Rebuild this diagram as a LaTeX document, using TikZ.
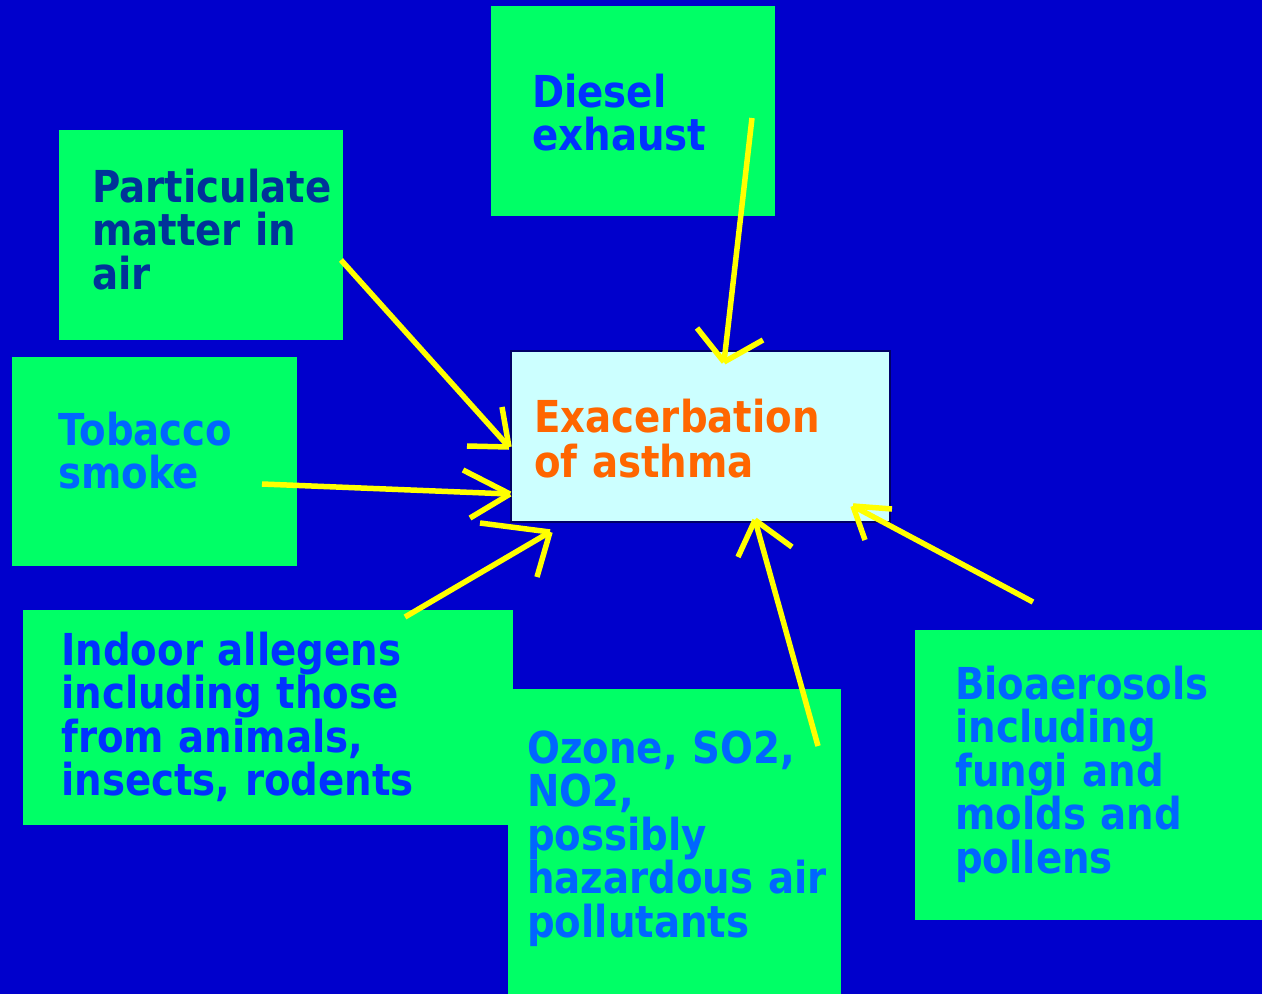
\documentclass[tikz,border=0pt]{standalone}
\usepackage{fontspec}
\newfontfamily\tf[FakeStretch=0.88,BoldFont={DejaVu Sans Bold}]{DejaVu Sans}
\definecolor{bg}{RGB}{0,0,204}
\definecolor{boxgreen}{RGB}{0,255,102}
\definecolor{centerfill}{RGB}{204,255,255}
\definecolor{centerline}{RGB}{0,0,102}
\definecolor{tdark}{RGB}{0,51,153}
\definecolor{tmid}{RGB}{0,51,255}
\definecolor{tlight}{RGB}{0,102,255}
\definecolor{torange}{RGB}{255,102,0}
\definecolor{arrowyellow}{RGB}{255,255,0}
\tikzset{
  gbox/.style={fill=boxgreen, draw=none, anchor=north west, inner sep=0pt},
  lbl/.style={anchor=base west, inner sep=0pt, text width=400pt, align=left,
    font=\tf\bfseries\fontsize{44}{43.5}\selectfont},
  yarrow/.style={draw=arrowyellow, line width=5.5pt, line cap=butt},
}
\begin{document}
\begin{tikzpicture}[x=1pt,y=-1pt]
\useasboundingbox (0,0) rectangle (1262,994);
\fill[bg] (0,0) rectangle (1262,994);
% boxes
\node[gbox, minimum width=284pt, minimum height=210pt] (dieselbox) at (491,6) {};
\node[gbox, minimum width=284pt, minimum height=210pt] (partbox) at (59,130) {};
\node[gbox, minimum width=285pt, minimum height=209pt] (tobbox) at (12,357) {};
\node[gbox, minimum width=490pt, minimum height=215pt] (indoorbox) at (23,610) {};
\node[gbox, minimum width=333pt, minimum height=305pt] (ozonebox) at (508,689) {};
\node[gbox, minimum width=347pt, minimum height=290pt] (biobox) at (915,630) {};
\node[anchor=north west, inner sep=0pt, fill=centerfill, draw=centerline, line width=2pt,
  minimum width=379pt, minimum height=171pt] (center) at (510,350) {};
% labels
\node[lbl, text=tmid] (dieseltxt) at (532,107) {Diesel\\exhaust};
\node[lbl, text=tdark] (parttxt) at (92,202) {Particulate\\matter in\\air};
\node[lbl, text=tlight] (tobtxt) at (58,445) {Tobacco\\smoke};
\node[lbl, text=tmid] (indoortxt) at (61,665) {Indoor allegens\\including those\\from animals,\\insects, rodents};
\node[lbl, text=tlight] (ozonetxt) at (527,763) {Ozone, SO2,\\NO2,\\possibly\\hazardous air\\pollutants};
\node[lbl, text=tlight] (biotxt) at (955,699) {Bioaerosols\\including\\fungi and\\molds and\\pollens};
\node[lbl, text=torange, font=\tf\bfseries\fontsize{44}{45}\selectfont] (centertxt) at (534,432) {Exacerbation\\of asthma};
% arrow coordinates
\coordinate (d0) at (752,118); \coordinate (d1) at (724,362);
\coordinate (dh1) at (697,328); \coordinate (dh2) at (763,340);
\coordinate (p0) at (341,260); \coordinate (p1) at (509,447);
\coordinate (ph1) at (502,407); \coordinate (ph2) at (467,446);
\coordinate (t0) at (262,484); \coordinate (t1) at (510,494);
\coordinate (th1) at (463,470); \coordinate (th2) at (470,518);
\coordinate (i0) at (405,617); \coordinate (i1) at (550,532);
\coordinate (ih1) at (480,523); \coordinate (ih2) at (537,577);
\coordinate (o0) at (818,746); \coordinate (o1) at (755,520);
\coordinate (oh1) at (738,557); \coordinate (oh2) at (792,547);
\coordinate (b0) at (1033,602); \coordinate (b1) at (853,506);
\coordinate (bh1) at (865,540); \coordinate (bh2) at (892,509);
% arrows
\foreach \a in {d,p,t,i,o,b}{
  \draw[yarrow] (\a0) -- (\a1);
  \draw[yarrow] (\a h1) -- (\a1);
  \draw[yarrow] (\a h2) -- (\a1);
}
\end{tikzpicture}
\end{document}
